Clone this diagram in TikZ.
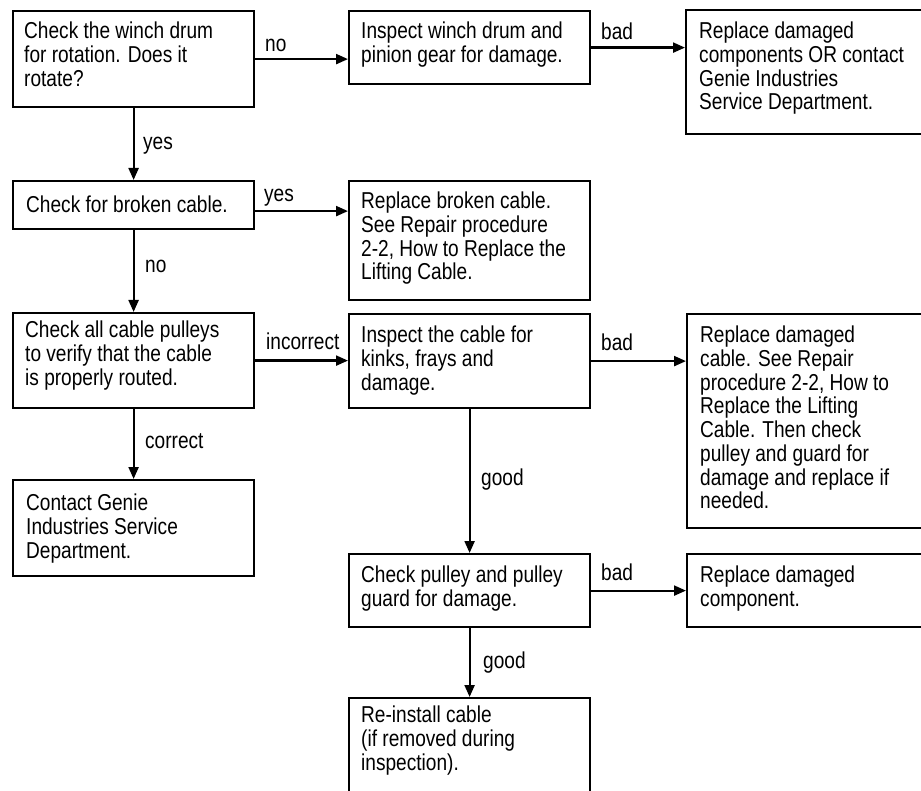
\documentclass[tikz,border=0pt]{standalone}
\usepackage{fontspec}
\setmainfont{Liberation Sans}[FakeStretch=0.83]
\usetikzlibrary{arrows.meta,calc}
\newcommand\flowbox[5]{\node[box, minimum width={#4-#2}, minimum height={#5-#3}] (#1) at (#2,#3) {};}
\begin{document}
\begin{tikzpicture}[x=1pt,y=-1pt,
 box/.style={draw, line width=2.2pt, inner sep=0pt, anchor=north west},
 txt/.style={anchor=north west, align=left, inner sep=0pt, font=\fontsize{23}{23.7}\selectfont, execute at begin node={\rule{0pt}{18pt}}, yshift=18pt},
 lbl/.style={anchor=base west, inner sep=0pt, font=\fontsize{23}{23.7}\selectfont},
 arr/.style={line width=2.2pt, -{Triangle[length=12pt,width=10pt]}}]
\clip (0,0) rectangle (921,791);
\fill[white] (0,0) rectangle (921,791);
% boxes
\flowbox{A}{12}{10}{253}{106}
\flowbox{B}{348}{10}{589}{83}
\flowbox{C}{685}{9}{930}{133}
\flowbox{D}{12}{180}{253}{228}
\flowbox{E}{348}{180}{589}{299}
\flowbox{F}{12}{312}{253}{407}
\flowbox{G}{12}{479}{253}{575}
\flowbox{H}{348}{313}{589}{407}
\flowbox{I}{686}{313}{930}{527}
\flowbox{J}{348}{553}{589}{626}
\flowbox{K}{686}{553}{930}{626}
\flowbox{L}{348}{697}{589}{800}
% texts (coordinates are first-line baselines)
\node[txt] (At) at (24,40) {Check the winch drum\\for rotation. Does it\\rotate?};
\node[txt] (Bt) at (361,40) {Inspect winch drum and\\pinion gear for damage.};
\node[txt] (Ct) at (699,40) {Replace damaged\\components OR contact\\Genie Industries\\Service Department.};
\node[txt] (Dt) at (26,212) {Check for broken cable.};
\node[txt] (Et) at (361,210) {Replace broken cable.\\See Repair procedure\\2-2, How to Replace the\\Lifting Cable.};
\node[txt] (Ft) at (25,339) {Check all cable pulleys\\to verify that the cable\\is properly routed.};
\node[txt] (Gt) at (26,512) {Contact Genie\\Industries Service\\Department.};
\node[txt] (Ht) at (361,344) {Inspect the cable for\\kinks, frays and\\damage.};
\node[txt] (It) at (700,344) {Replace damaged\\cable. See Repair\\procedure 2-2, How to\\Replace the Lifting\\Cable. Then check\\pulley and guard for\\damage and replace if\\needed.};
\node[txt] (Jt) at (361,584) {Check pulley and pulley\\guard for damage.};
\node[txt] (Kt) at (700,584) {Replace damaged\\component.};
\node[txt] (Lt) at (361,724) {Re-install cable\\(if removed during\\inspection).};
% connectors
\draw[arr] (A.east) -- (A.east -| B.west);
\draw[arr] (B.east) -- (B.east -| C.west);
\draw[arr] (A.south) -- (D.north);
\draw[arr] ([yshift=-6pt]D.east) -- ([yshift=-6pt]D.east -| E.west);
\draw[arr] (D.south) -- (F.north);
\draw[arr] (F.east) -- (F.east -| H.west);
\draw[arr] (F.south) -- (G.north);
\draw[arr] (H.east) -- (H.east -| I.west);
\draw[arr] (H.south) -- (J.north);
\draw[arr] (J.east) -- (J.east -| K.west);
\draw[arr] (J.south) -- (L.north);
% labels
\node[lbl] (l1) at (265,52) {no};
\node[lbl] (l2) at (601,40) {bad};
\node[lbl] (l3) at (143,150) {yes};
\node[lbl] (l4) at (264,202) {yes};
\node[lbl] (l5) at (145,273) {no};
\node[lbl] (l6) at (266,350) {incorrect};
\node[lbl] (l7) at (145,448) {correct};
\node[lbl] (l8) at (601,351) {bad};
\node[lbl] (l9) at (481,485) {good};
\node[lbl] (l10) at (601,580) {bad};
\node[lbl] (l11) at (483,668) {good};
\end{tikzpicture}
\end{document}
